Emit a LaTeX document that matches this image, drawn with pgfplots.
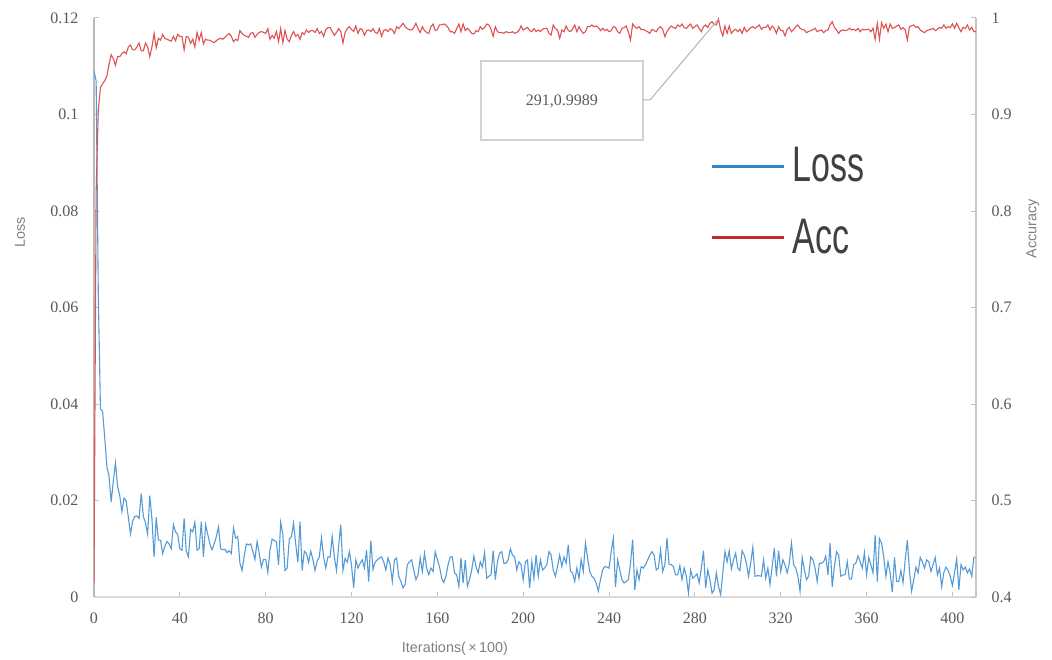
\documentclass[border=0pt]{standalone}
\usepackage{fontspec}
\setmainfont{Liberation Serif}
\newfontfamily\labelfont{Liberation Sans}
\newfontfamily\legfont[FakeStretch=0.68]{Liberation Sans}
\usepackage{pgfplots}
\usepackage{pgfplotstable}
\pgfplotsset{compat=1.18}

\definecolor{lossblue}{RGB}{84,155,214}
\definecolor{accred}{RGB}{222,82,82}
\definecolor{legblue}{RGB}{46,134,200}
\definecolor{legred}{RGB}{196,38,42}
\definecolor{ticktext}{RGB}{89,89,89}
\definecolor{labeltext}{RGB}{128,128,128}
\definecolor{boxgray}{RGB}{210,210,210}
\definecolor{legtext}{RGB}{64,64,64}

% loss, one value per x (x = row index, in units of 100 iterations)
\pgfplotstableread[row sep=\\]{
loss\\
0.109\\ 0.107\\ 0.063\\ 0.039\\ 0.0385\\ 0.033\\ 0.027\\ 0.025\\ 0.0197\\ 0.024\\
0.0278\\ 0.0229\\ 0.021\\ 0.0177\\ 0.0205\\ 0.0199\\ 0.0165\\ 0.0131\\ 0.0157\\ 0.0167\\
0.0168\\ 0.0163\\ 0.0214\\ 0.0167\\ 0.0154\\ 0.013\\ 0.021\\ 0.0162\\ 0.0083\\ 0.0165\\
0.0118\\ 0.0118\\ 0.009\\ 0.0105\\ 0.0115\\ 0.011\\ 0.010\\ 0.015\\ 0.0135\\ 0.013\\
0.010\\ 0.0097\\ 0.0163\\ 0.0095\\ 0.0083\\ 0.014\\ 0.0135\\ 0.0155\\ 0.0097\\ 0.010\\
0.0156\\ 0.0083\\ 0.015\\ 0.013\\ 0.011\\ 0.0098\\ 0.011\\ 0.0125\\ 0.0145\\ 0.010\\
0.0098\\ 0.0099\\ 0.0092\\ 0.0096\\ 0.009\\ 0.0143\\ 0.0122\\ 0.0125\\ 0.007\\ 0.0055\\
0.0085\\ 0.011\\ 0.0108\\ 0.011\\ 0.0095\\ 0.0078\\ 0.0115\\ 0.009\\ 0.0062\\ 0.0078\\
0.0078\\ 0.0051\\ 0.0097\\ 0.012\\ 0.0117\\ 0.0115\\ 0.0066\\ 0.0155\\ 0.013\\ 0.0055\\
0.006\\ 0.012\\ 0.0125\\ 0.0153\\ 0.011\\ 0.0072\\ 0.0156\\ 0.0055\\ 0.0095\\ 0.009\\
0.0072\\ 0.0095\\ 0.0078\\ 0.0055\\ 0.0075\\ 0.0083\\ 0.0123\\ 0.0083\\ 0.006\\ 0.0083\\
0.0083\\ 0.0125\\ 0.0083\\ 0.0055\\ 0.0105\\ 0.015\\ 0.0055\\ 0.008\\ 0.0072\\ 0.0094\\
0.0065\\ 0.0019\\ 0.0077\\ 0.006\\ 0.007\\ 0.0077\\ 0.006\\ 0.0097\\ 0.0032\\ 0.0117\\
0.0057\\ 0.0072\\ 0.0077\\ 0.0081\\ 0.0083\\ 0.0073\\ 0.0056\\ 0.0081\\ 0.0067\\ 0.0032\\
0.0077\\ 0.0081\\ 0.0043\\ 0.0032\\ 0.0019\\ 0.0026\\ 0.0067\\ 0.0073\\ 0.0077\\ 0.0056\\
0.0036\\ 0.0046\\ 0.0081\\ 0.0053\\ 0.0091\\ 0.006\\ 0.0046\\ 0.006\\ 0.0053\\ 0.0094\\
0.0077\\ 0.0063\\ 0.0039\\ 0.003\\ 0.0043\\ 0.0067\\ 0.0083\\ 0.0083\\ 0.005\\ 0.0046\\
0.0022\\ 0.0081\\ 0.0029\\ 0.0077\\ 0.0022\\ 0.0036\\ 0.0056\\ 0.0085\\ 0.0063\\ 0.005\\
0.0073\\ 0.0062\\ 0.0092\\ 0.0039\\ 0.0043\\ 0.0046\\ 0.0096\\ 0.0036\\ 0.0073\\ 0.0091\\
0.0094\\ 0.007\\ 0.007\\ 0.0077\\ 0.010\\ 0.0087\\ 0.0083\\ 0.0056\\ 0.0073\\ 0.0067\\
0.0036\\ 0.0073\\ 0.0077\\ 0.0019\\ 0.0073\\ 0.0039\\ 0.0087\\ 0.0043\\ 0.0077\\ 0.0056\\
0.006\\ 0.0067\\ 0.0094\\ 0.0087\\ 0.0056\\ 0.0043\\ 0.0063\\ 0.0087\\ 0.0063\\ 0.0083\\
0.007\\ 0.0108\\ 0.0053\\ 0.005\\ 0.0032\\ 0.006\\ 0.0039\\ 0.0077\\ 0.0053\\ 0.0112\\
0.0081\\ 0.0053\\ 0.0043\\ 0.0039\\ 0.0029\\ 0.0012\\ 0.0036\\ 0.0056\\ 0.0063\\ 0.0062\\
0.006\\ 0.0094\\ 0.0122\\ 0.0021\\ 0.0077\\ 0.0056\\ 0.0036\\ 0.0029\\ 0.0032\\ 0.0036\\
0.007\\ 0.0119\\ 0.0015\\ 0.0056\\ 0.0036\\ 0.0063\\ 0.006\\ 0.0067\\ 0.0077\\ 0.0087\\
0.0094\\ 0.0087\\ 0.0056\\ 0.006\\ 0.0098\\ 0.0053\\ 0.0067\\ 0.0122\\ 0.0067\\ 0.0067\\
0.0063\\ 0.0046\\ 0.0046\\ 0.0065\\ 0.0036\\ 0.006\\ 0.0043\\ 0.0008\\ 0.0056\\ 0.0039\\
0.0043\\ 0.0048\\ 0.0029\\ 0.006\\ 0.0096\\ 0.0019\\ 0.0056\\ 0.0036\\ 0.0008\\ 0.0015\\
0.005\\ 0.0022\\ 0.0005\\ 0.005\\ 0.0094\\ 0.0073\\ 0.0096\\ 0.0058\\ 0.0077\\ 0.0091\\
0.006\\ 0.0055\\ 0.0096\\ 0.0087\\ 0.007\\ 0.0043\\ 0.007\\ 0.0103\\ 0.0043\\ 0.0044\\
0.0044\\ 0.0043\\ 0.0077\\ 0.0039\\ 0.006\\ 0.0026\\ 0.0063\\ 0.0101\\ 0.0043\\ 0.0096\\
0.0053\\ 0.0077\\ 0.0067\\ 0.005\\ 0.007\\ 0.0112\\ 0.0067\\ 0.006\\ 0.0043\\ 0.0012\\
0.0082\\ 0.0056\\ 0.0036\\ 0.0043\\ 0.0083\\ 0.0077\\ 0.006\\ 0.0032\\ 0.007\\ 0.007\\
0.0073\\ 0.0085\\ 0.0046\\ 0.0112\\ 0.0021\\ 0.0063\\ 0.0094\\ 0.0087\\ 0.0043\\ 0.0046\\
0.0046\\ 0.0073\\ 0.0037\\ 0.0037\\ 0.0067\\ 0.007\\ 0.0085\\ 0.0073\\ 0.006\\ 0.0092\\
0.0046\\ 0.0082\\ 0.0067\\ 0.005\\ 0.0128\\ 0.0032\\ 0.0121\\ 0.0112\\ 0.0083\\ 0.0043\\
0.0073\\ 0.005\\ 0.001\\ 0.0082\\ 0.0032\\ 0.0032\\ 0.0055\\ 0.003\\ 0.0077\\ 0.0118\\
0.0053\\ 0.0012\\ 0.0036\\ 0.0062\\ 0.005\\ 0.0082\\ 0.0073\\ 0.006\\ 0.0077\\ 0.0073\\
0.0053\\ 0.0067\\ 0.0082\\ 0.0046\\ 0.006\\ 0.0021\\ 0.0051\\ 0.0062\\ 0.0055\\ 0.0043\\
0.0024\\ 0.005\\ 0.0079\\ 0.0015\\ 0.0067\\ 0.0056\\ 0.0062\\ 0.005\\ 0.0058\\ 0.0043\\
0.0082\\ 0.0083\\
}\losstable

% accuracy, one value per x
\pgfplotstableread[row sep=\\]{
acc\\
0.4145\\ 0.82\\ 0.905\\ 0.928\\ 0.932\\ 0.935\\ 0.94\\ 0.952\\ 0.962\\ 0.958\\
0.951\\ 0.96\\ 0.96\\ 0.963\\ 0.965\\ 0.963\\ 0.97\\ 0.972\\ 0.967\\ 0.967\\
0.97\\ 0.974\\ 0.966\\ 0.966\\ 0.974\\ 0.97\\ 0.96\\ 0.97\\ 0.984\\ 0.969\\
0.979\\ 0.977\\ 0.983\\ 0.979\\ 0.978\\ 0.977\\ 0.976\\ 0.981\\ 0.9765\\ 0.983\\
0.981\\ 0.981\\ 0.967\\ 0.981\\ 0.98\\ 0.9737\\ 0.978\\ 0.97\\ 0.985\\ 0.977\\
0.985\\ 0.973\\ 0.978\\ 0.977\\ 0.977\\ 0.9755\\ 0.9744\\ 0.9765\\ 0.978\\ 0.979\\
0.978\\ 0.98\\ 0.982\\ 0.984\\ 0.981\\ 0.9755\\ 0.978\\ 0.9765\\ 0.987\\ 0.984\\
0.982\\ 0.981\\ 0.98\\ 0.984\\ 0.985\\ 0.98\\ 0.983\\ 0.985\\ 0.986\\ 0.985\\
0.984\\ 0.989\\ 0.978\\ 0.982\\ 0.979\\ 0.986\\ 0.9755\\ 0.989\\ 0.9744\\ 0.987\\
0.978\\ 0.9755\\ 0.982\\ 0.986\\ 0.981\\ 0.983\\ 0.978\\ 0.985\\ 0.983\\ 0.9876\\
0.985\\ 0.9869\\ 0.9869\\ 0.985\\ 0.989\\ 0.984\\ 0.986\\ 0.981\\ 0.988\\ 0.99\\
0.99\\ 0.986\\ 0.982\\ 0.985\\ 0.989\\ 0.986\\ 0.974\\ 0.985\\ 0.989\\ 0.991\\
0.988\\ 0.986\\ 0.9917\\ 0.984\\ 0.989\\ 0.988\\ 0.982\\ 0.987\\ 0.9876\\ 0.986\\
0.989\\ 0.985\\ 0.984\\ 0.989\\ 0.981\\ 0.987\\ 0.988\\ 0.986\\ 0.989\\ 0.9876\\
0.984\\ 0.991\\ 0.989\\ 0.9917\\ 0.9945\\ 0.991\\ 0.989\\ 0.988\\ 0.9876\\ 0.99\\
0.9945\\ 0.989\\ 0.985\\ 0.991\\ 0.987\\ 0.985\\ 0.984\\ 0.991\\ 0.9938\\ 0.9869\\
0.988\\ 0.9928\\ 0.993\\ 0.9938\\ 0.9928\\ 0.99\\ 0.9858\\ 0.9858\\ 0.9841\\ 0.989\\
0.9938\\ 0.9858\\ 0.9938\\ 0.9869\\ 0.9893\\ 0.987\\ 0.9841\\ 0.9834\\ 0.9869\\ 0.9858\\
0.991\\ 0.9883\\ 0.99\\ 0.9938\\ 0.9928\\ 0.9883\\ 0.981\\ 0.991\\ 0.9858\\ 0.9848\\
0.985\\ 0.9841\\ 0.9858\\ 0.985\\ 0.9848\\ 0.9858\\ 0.9841\\ 0.985\\ 0.9869\\ 0.9917\\
0.9876\\ 0.989\\ 0.9903\\ 0.987\\ 0.9858\\ 0.989\\ 0.9858\\ 0.9876\\ 0.986\\ 0.9883\\
0.9893\\ 0.9893\\ 0.9841\\ 0.9824\\ 0.9928\\ 0.989\\ 0.9876\\ 0.9788\\ 0.9876\\ 0.9858\\
0.9917\\ 0.987\\ 0.9858\\ 0.9883\\ 0.9928\\ 0.9858\\ 0.991\\ 0.9869\\ 0.9841\\ 0.9858\\
0.991\\ 0.991\\ 0.9928\\ 0.991\\ 0.9917\\ 0.9903\\ 0.9869\\ 0.9893\\ 0.9869\\ 0.9883\\
0.9858\\ 0.987\\ 0.991\\ 0.9903\\ 0.9858\\ 0.9841\\ 0.9893\\ 0.99\\ 0.9917\\ 0.9858\\
0.9772\\ 0.9938\\ 0.991\\ 0.9893\\ 0.991\\ 0.988\\ 0.9883\\ 0.9869\\ 0.9858\\ 0.9841\\
0.9883\\ 0.987\\ 0.9858\\ 0.9893\\ 0.991\\ 0.9883\\ 0.9807\\ 0.9858\\ 0.9893\\ 0.9917\\
0.99\\ 0.9893\\ 0.9928\\ 0.991\\ 0.9938\\ 0.99\\ 0.9893\\ 0.9917\\ 0.9938\\ 0.9893\\
0.991\\ 0.9928\\ 0.9893\\ 0.9858\\ 0.991\\ 0.9928\\ 0.9903\\ 0.9945\\ 0.9962\\ 0.993\\
0.9928\\ 0.9989\\ 0.9876\\ 0.9814\\ 0.9917\\ 0.9841\\ 0.9917\\ 0.9841\\ 0.987\\ 0.9883\\
0.9858\\ 0.9883\\ 0.9841\\ 0.9903\\ 0.9858\\ 0.9876\\ 0.99\\ 0.991\\ 0.9893\\ 0.991\\
0.9928\\ 0.9883\\ 0.9903\\ 0.9903\\ 0.9928\\ 0.9876\\ 0.9917\\ 0.9893\\ 0.9841\\ 0.991\\
0.9869\\ 0.9869\\ 0.9814\\ 0.9883\\ 0.9903\\ 0.9858\\ 0.988\\ 0.991\\ 0.9928\\ 0.9893\\
0.988\\ 0.9876\\ 0.9848\\ 0.986\\ 0.9869\\ 0.988\\ 0.9893\\ 0.9858\\ 0.987\\ 0.9876\\
0.9848\\ 0.987\\ 0.9876\\ 0.993\\ 0.9962\\ 0.9903\\ 0.9876\\ 0.9841\\ 0.9869\\ 0.9876\\
0.9869\\ 0.9876\\ 0.9893\\ 0.9876\\ 0.9883\\ 0.9869\\ 0.9893\\ 0.9858\\ 0.9883\\ 0.9876\\
0.988\\ 0.9883\\ 0.9858\\ 0.9893\\ 0.9779\\ 0.9945\\ 0.9779\\ 0.995\\ 0.9893\\ 0.9938\\
0.9858\\ 0.9938\\ 0.9893\\ 0.99\\ 0.9917\\ 0.9928\\ 0.9883\\ 0.99\\ 0.9876\\ 0.9772\\
0.991\\ 0.992\\ 0.9928\\ 0.9903\\ 0.991\\ 0.9876\\ 0.986\\ 0.9848\\ 0.9869\\ 0.9876\\
0.9883\\ 0.9893\\ 0.9869\\ 0.9883\\ 0.9903\\ 0.9893\\ 0.9928\\ 0.9893\\ 0.991\\ 0.99\\
0.9938\\ 0.9893\\ 0.9945\\ 0.99\\ 0.9858\\ 0.9903\\ 0.9893\\ 0.9928\\ 0.9876\\ 0.9903\\
0.9858\\ 0.986\\
}\acctable

\pgfplotsset{
  base/.style={
    scale only axis, width=441pt, height=289.5pt,
    xmin=0, xmax=411,
    tick align=inside, major tick length=2.5pt,
    tick style={draw=gray!50, line width=0.5pt},
    /pgf/number format/assume math mode=true,
    ticklabel style={font=\fontsize{8}{9}\selectfont, text=ticktext},
    label style={font=\labelfont\fontsize{7.2}{8}\selectfont, text=labeltext},
    axis line style={-},
  },
}

\begin{document}
\begin{tikzpicture}
\begin{axis}[base,
  axis x line*=bottom, axis y line*=left,
  x axis line style={draw=gray!30, line width=0.8pt},
  y axis line style={draw=gray!55, line width=0.6pt},
  ymin=0, ymax=0.12,
  xtick={0,40,...,400},
  ytick={0,0.02,0.04,0.06,0.08,0.1,0.12},
  scaled y ticks=false,
  yticklabel style={/pgf/number format/fixed, /pgf/number format/precision=2, xshift=-4.3pt},
  xticklabel style={yshift=-4.6pt},
  xlabel={Iterations(\,×\,100)}, ylabel={Loss},
  xlabel style={at={(rel axis cs:0.4093,-0.0898)}, anchor=center},
  ylabel style={at={(rel axis cs:-0.0839,0.63)}, anchor=center},
]
\addplot[lossblue, line width=0.55pt] table[x expr=\coordindex, y=loss] {\losstable};
\end{axis}

\begin{axis}[base,
  axis x line=none, axis y line*=right,
  y axis line style={draw=gray!45, line width=0.6pt},
  ymin=0.4, ymax=1,
  ytick={0.4,0.5,0.6,0.7,0.8,0.9,1},
  yticklabel style={/pgf/number format/fixed, /pgf/number format/precision=1, xshift=4.3pt},
  ylabel={Accuracy},
  ylabel style={at={(rel axis cs:1.0646,0.6356)}, anchor=center},
]
\addplot[accred, line width=0.55pt] table[x expr=\coordindex, y=acc] {\acctable};
% data label of the best accuracy
\draw[boxgray, line width=0.75pt] (rel axis cs:0.4388,0.7893) rectangle (rel axis cs:0.6224,0.9257);
\node[text=ticktext, font=\fontsize{8}{9}\selectfont] at (rel axis cs:0.5306,0.8566) {291,0.9989};
\draw[gray!60, line width=0.5pt] (rel axis cs:0.6224,0.8584) -- (rel axis cs:0.6304,0.8584) -- (axis cs:291,0.9989);
% legend
\draw[legblue, line width=1.3pt] (rel axis cs:0.7007,0.7432) -- (rel axis cs:0.7819,0.7432);
\draw[legred, line width=1.3pt] (rel axis cs:0.7007,0.6206) -- (rel axis cs:0.7819,0.6206);
\node[anchor=base west, inner sep=0pt, text=legtext, font=\legfont\fontsize{25}{30}\selectfont] at (rel axis cs:0.7914,0.7173) {Loss};
\node[anchor=base west, inner sep=0pt, text=legtext, font=\legfont\fontsize{25}{30}\selectfont] at (rel axis cs:0.7914,0.5941) {Acc};
\end{axis}
\pgfresetboundingbox
\useasboundingbox (-47pt,-31pt) rectangle (479pt,298.5pt);
\end{tikzpicture}
\end{document}
